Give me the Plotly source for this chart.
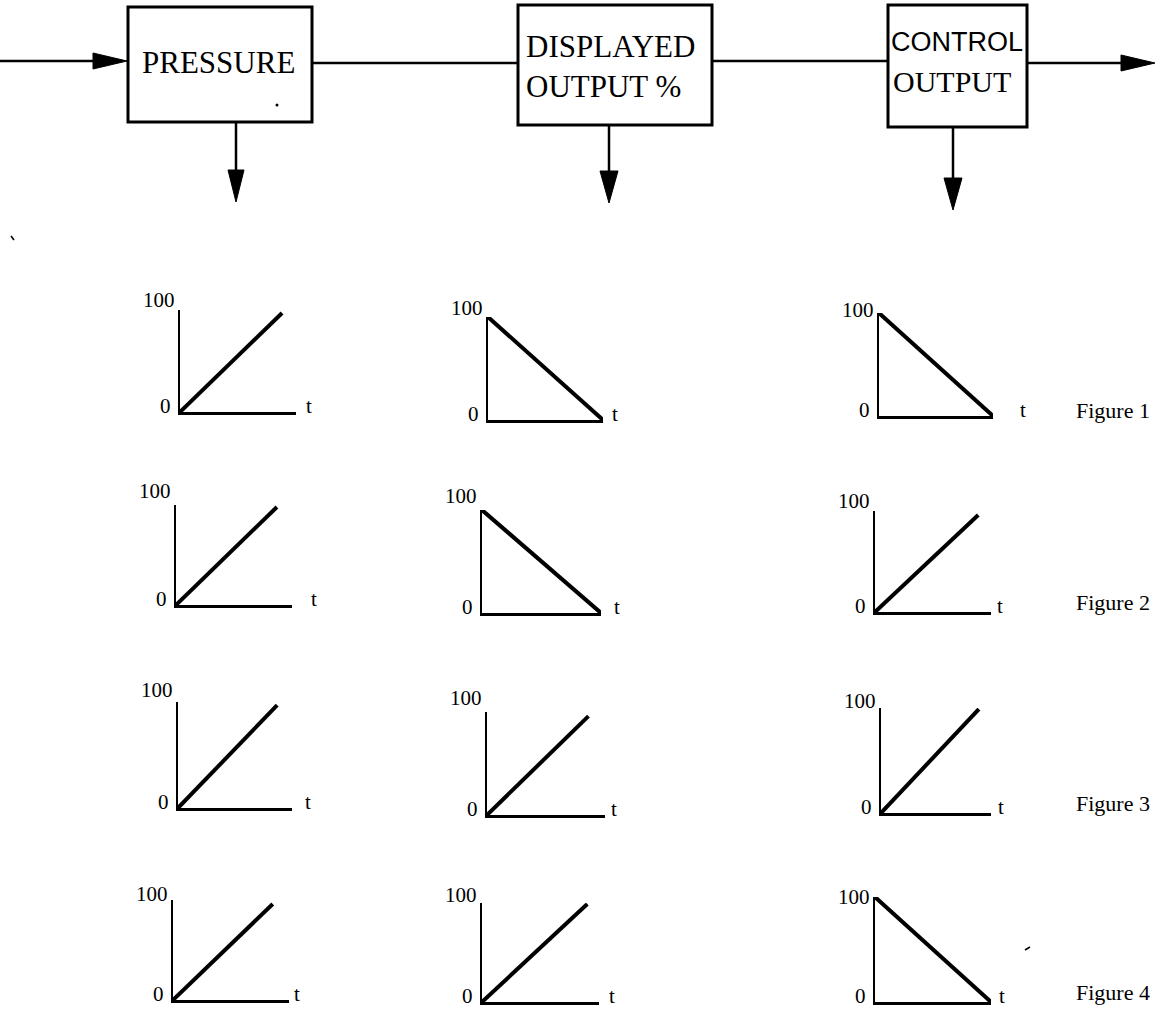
import plotly.graph_objects as go

W, H = 1156, 1014

# ---------------- data ----------------
stage_names = ["PRESSURE", "DISPLAYED<br>OUTPUT %", "CONTROL", "OUTPUT"]
figure_labels = ["Figure 1", "Figure 2", "Figure 3", "Figure 4"]
y_tick_labels = ["0", "100"]
x_axis_label = "t"

# time (% of t-axis length) and value (% of 0..100 scale) per figure row
pressure_t = [[0, 88], [0, 87], [0, 87], [0, 86]]
pressure_v = [[0, 97], [0, 98], [0, 97], [0, 96]]
displayed_t = [[0, 100], [0, 100], [0, 86], [0, 90]]
displayed_v = [[100, 0], [100, 0], [0, 96], [0, 99]]
control_t = [[0, 100], [0, 89], [0, 89], [0, 100]]
control_v = [[100, 0], [0, 96], [0, 99], [100, 0]]

# ---------------- layout helpers (pixel geometry) ----------------
def X(x):
    return x / W

def Y(y):
    return 1 - y / H

# panel geometry: origin x, origin y, axis top y, axis right x
geom = [
    [(180, 412, 310, 296), (488, 420, 317, 603), (879, 416, 313, 993)],
    [(176, 605, 505, 292), (482, 613, 510, 601), (875, 612, 511, 991)],
    [(178, 808, 702, 292), (487, 815, 712, 605), (881, 813, 708, 991)],
    [(173, 1000, 900, 289), (482, 1002, 903, 599), (875, 1002, 897, 991)],
]
hundred_dy = [[-10, -9, -3], [-14, -14, -10], [-12, -14, -7], [-6, -8, 0]]
t_gap = [[11, 10, 28], [20, 14, 7], [14, 7, 8], [6, 11, 9]]
fig_label_y = [410, 602, 803, 992]

SERIF = "Liberation Serif, Times New Roman, serif"
SANS = "Liberation Sans, Arial, sans-serif"

fig = go.Figure()
layout = dict(
    width=W, height=H,
    margin=dict(l=0, r=0, t=0, b=0),
    paper_bgcolor="white", plot_bgcolor="rgba(0,0,0,0)",
    showlegend=False,
)
annotations = []
shapes = []

series_t = [pressure_t, displayed_t, control_t]
series_v = [pressure_v, displayed_v, control_v]

k = 0
for r in range(4):
    for c in range(3):
        k += 1
        ox, oy, top, xend = geom[r][c]
        xa = "x" if k == 1 else f"x{k}"
        ya = "y" if k == 1 else f"y{k}"
        xkey = "xaxis" if k == 1 else f"xaxis{k}"
        ykey = "yaxis" if k == 1 else f"yaxis{k}"
        layout[xkey] = dict(
            domain=[X(ox), X(xend)], anchor=ya, range=[0, 100],
            showline=True, linecolor="black", linewidth=3,
            showgrid=False, zeroline=False, showticklabels=False, ticks="",
            fixedrange=True,
        )
        layout[ykey] = dict(
            domain=[Y(oy), Y(top)], anchor=xa, range=[0, 100],
            showline=True, linecolor="black", linewidth=2,
            showgrid=False, zeroline=False, showticklabels=False, ticks="",
            fixedrange=True,
        )
        fig.add_trace(go.Scatter(
            x=series_t[c][r], y=series_v[c][r], xaxis=xa, yaxis=ya,
            mode="lines", line=dict(color="black", width=4),
            cliponaxis=False, hoverinfo="skip",
        ))
        # axis labels
        annotations.append(dict(
            x=0, y=100, xref=xa, yref=ya, text=y_tick_labels[1],
            xanchor="right", yanchor="middle", xshift=-3, yshift=-hundred_dy[r][c],
            showarrow=False, font=dict(family=SERIF, size=21, color="black"),
        ))
        annotations.append(dict(
            x=0, y=0, xref=xa, yref=ya, text=y_tick_labels[0],
            xanchor="right", yanchor="middle", xshift=-7, yshift=6,
            showarrow=False, font=dict(family=SERIF, size=21, color="black"),
        ))
        annotations.append(dict(
            x=100, y=0, xref=xa, yref=ya, text=x_axis_label,
            xanchor="left", yanchor="middle", xshift=t_gap[r][c] - 3, yshift=6,
            showarrow=False, font=dict(family=SERIF, size=21, color="black"),
        ))

for r in range(4):
    annotations.append(dict(
        x=X(1074), y=Y(fig_label_y[r]), xref="paper", yref="paper",
        text=figure_labels[r], xanchor="left", yanchor="middle",
        showarrow=False, font=dict(family=SERIF, size=22, color="black"),
    ))

# ---------------- block diagram ----------------
LW = 2.5
boxes = [(128, 7, 312, 122), (518, 5, 712, 125), (888, 5, 1027, 127)]
for (x0, y0, x1, y1) in boxes:
    shapes.append(dict(type="rect", xref="paper", yref="paper",
                       x0=X(x0), y0=Y(y1), x1=X(x1), y1=Y(y0),
                       line=dict(color="black", width=3)))

def hline(x0, x1, y):
    shapes.append(dict(type="line", xref="paper", yref="paper",
                       x0=X(x0), x1=X(x1), y0=Y(y), y1=Y(y),
                       line=dict(color="black", width=LW)))

def vline(x, y0, y1):
    shapes.append(dict(type="line", xref="paper", yref="paper",
                       x0=X(x), x1=X(x), y0=Y(y0), y1=Y(y1),
                       line=dict(color="black", width=LW)))

def tri(points):
    p = "M " + " L ".join(f"{X(a)},{Y(b)}" for a, b in points) + " Z"
    shapes.append(dict(type="path", xref="paper", yref="paper", path=p,
                       fillcolor="black", line=dict(color="black", width=1)))

# input arrow
hline(0, 100, 61)
tri([(93, 53), (127, 61), (93, 69)])
# connecting lines
hline(312, 518, 63)
hline(712, 888, 61)
# output arrow
hline(1027, 1125, 63)
tri([(1121, 55), (1155, 63), (1121, 71)])
# down arrows
for (x, y0, tip, hw) in [(236, 122, 202, 8), (609, 125, 203, 9), (953, 127, 210, 9)]:
    vline(x, y0, tip - 25)
    tri([(x - hw, tip - 32), (x, tip), (x + hw, tip - 32)])

# stray scan marks
shapes.append(dict(type="circle", xref="paper", yref="paper",
                   x0=X(275.5), x1=X(278.5), y0=Y(106.5), y1=Y(103.5),
                   fillcolor="black", line=dict(width=0)))
shapes.append(dict(type="line", xref="paper", yref="paper",
                   x0=X(11), x1=X(14), y0=Y(236), y1=Y(240),
                   line=dict(color="black", width=1.5)))
shapes.append(dict(type="line", xref="paper", yref="paper",
                   x0=X(1025), x1=X(1030), y0=Y(950), y1=Y(947),
                   line=dict(color="black", width=1.5)))

# box texts
def label(text, x, y, family, size, align="center"):
    annotations.append(dict(x=X(x), y=Y(y), xref="paper", yref="paper",
                            text=text, showarrow=False, xanchor="center",
                            yanchor="middle", align=align, borderpad=0,
                            font=dict(family=family, size=size, color="black")))

label(stage_names[0], 218, 63, SERIF, 31)
label(stage_names[1], 610, 66, SERIF, 31, align="left")
label(stage_names[2], 957, 42, SANS, 27)
label(stage_names[3], 952, 82, SERIF, 30)

layout["annotations"] = annotations
layout["shapes"] = shapes
fig.update_layout(**layout)

fig.write_html(
    "out.html",
    config={"displayModeBar": False},
    post_script="document.body.style.margin='0';document.body.style.overflow='hidden';",
)
